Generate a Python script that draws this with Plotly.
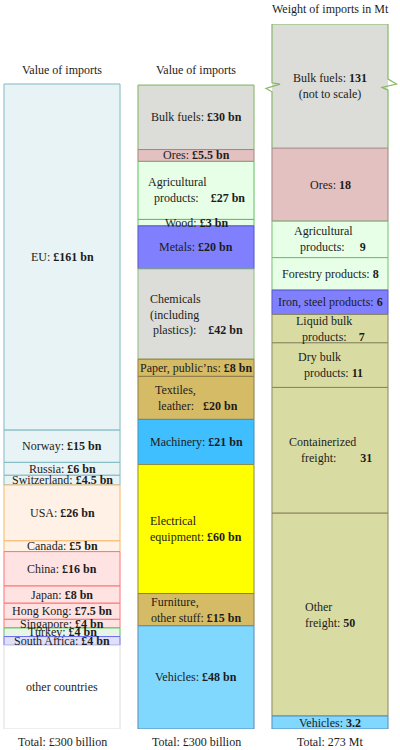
import numpy as np
import plotly.graph_objects as go

# column 1: value of imports by origin (£ bn)
countries = ['EU', 'Norway', 'Russia', 'Switzerland', 'USA', 'Canada', 'China',
             'Japan', 'Hong Kong', 'Singapore', 'Turkey', 'South Africa', 'other countries']
country_bn = [161, 15, 6, 4.5, 26, 5, 16, 8, 7.5, 4, 4, 4, 39]

# column 2: value of imports by goods (£ bn)
goods = ['Bulk fuels:', 'Ores:', 'Agricultural<br>\u00a0\u00a0products:\u00a0\u00a0\u00a0', 'Wood:',
         'Metals:', 'Chemicals<br>(including<br>\u00a0plastics):\u00a0\u00a0\u00a0', "Paper, public\u2019ns:",
         'Textiles,<br>\u00a0leather:\u00a0\u00a0', 'Machinery:', 'Electrical<br>equipment:',
         'Furniture,<br>other stuff:', 'Vehicles:']
goods_bn = [30, 5.5, 27, 3, 20, 42, 8, 20, 21, 60, 15, 48]

# column 3: weight of imports (Mt)
cargo = ['Bulk fuels:', 'Ores:', 'Agricultural<br>\u00a0\u00a0products:\u00a0\u00a0\u00a0\u00a0',
         'Forestry products:', 'Iron, steel products:', 'Liquid bulk<br>\u00a0\u00a0products:\u00a0\u00a0\u00a0',
         'Dry bulk<br>\u00a0\u00a0products:', 'Containerized<br>\u00a0\u00a0\u00a0\u00a0freight:\u00a0\u00a0\u00a0\u00a0\u00a0\u00a0\u00a0',
         'Other<br>freight:', 'Vehicles:']
cargo_mt = [131, 18, 9, 8, 6, 7, 11, 31, 50, 3.2]

titles = ['Value of imports', 'Value of imports', 'Weight of imports in Mt']
totals = ['Total: \u00a3300 billion', 'Total: \u00a3300 billion', 'Total: 273 Mt']

blue_f, blue_l = '#e8f3f5', '#80b9c2'
org_f, org_l = '#fff1e5', '#f7b769'
red_f, red_l = '#ffe3e3', '#ff7373'
country_fill = [blue_f] * 4 + [org_f] * 2 + [red_f] * 4 + ['#e6f5e6', '#e0e0fa', '#ffffff']
country_line = [blue_l] * 4 + [org_l] * 2 + [red_l] * 4 + ['#5cbf5c', '#6b6bf0', '#dddddd']

gray, pink, green, metal, tan, khaki = '#dcdcd8', '#e3c1c1', '#e6ffe6', '#8080ff', '#d6bb66', '#d9dca2'
goods_fill = [gray, pink, green, green, metal, gray, tan, tan, '#3fbfff', '#ffff00', tan, '#80d8ff']
goods_line = ['#7fb35f', '#a88383', '#5fbf5f', '#5fbf5f', '#5555c8', '#8fbb77', '#8c7c45', '#8c7c45',
              '#4a8fb0', '#8c8c40', '#8c7c45', '#5a8ab5']
cargo_fill = [gray, pink, green, green, metal, khaki, khaki, khaki, khaki, '#80d8ff']
cargo_line = [gray, '#a08383', '#70bf70', '#70bf70', '#5555c8', '#8a8660', '#8a8660', '#8a8660',
              '#8a8660', '#5a8ab5']

FONT = 'Liberation Serif'
FS = 12
X0, X1 = -0.4627, 2.5224          # 134 px per column step
BW = 0.866
Y_TOP = 327.9                     # £ bn axis
Y2_TOP = 173.8                    # Mt axis (bulk fuels cut off)


def bases(vals):
    v = np.array(vals, dtype=float)
    return v.sum() - np.cumsum(v)


fig = go.Figure()
annotations = []

cols = [
    (0, countries, country_bn, country_fill, country_line, 'y', '\u00a3{:g} bn'),
    (1, goods, goods_bn, goods_fill, goods_line, 'y', '\u00a3{:g} bn'),
    (2, cargo, cargo_mt, cargo_fill, cargo_line, 'y2', '{:g}'),
]
for xi, names, vals, fills, lines, yax, fmt in cols:
    b = bases(vals)
    widths = [1] * len(vals)
    if yax == 'y2':
        widths[0] = 0
    fig.add_trace(go.Bar(
        x=[xi] * len(vals), y=vals, base=b, width=BW, yaxis=yax,
        marker=dict(color=fills, line=dict(color=lines, width=widths)),
        hoverinfo='skip', showlegend=False))
    top = Y2_TOP if yax == 'y2' else Y_TOP
    for name, v, base in zip(names, vals, b):
        if name == 'other countries':
            txt = name
        elif xi == 0:
            txt = name + ': <b>' + fmt.format(v) + '</b>'
        else:
            txt = name + ' <b>' + fmt.format(v) + '</b>'
        yc = base + v / 2
        if base + v > top:
            yc = (base + top) / 2
            txt += '<br>(not to scale)'
        annotations.append(dict(
            x=xi, y=yc, xref='x', yref=yax, text=txt, showarrow=False,
            align='left' if '<br>' in name else 'center',
            font=dict(family=FONT, size=FS, color='#1c1c1c')))

# column headings and totals
for xi, (t, tot) in enumerate(zip(titles, totals)):
    annotations.append(dict(x=xi, y=1.021 if xi == 2 else 0.9348, xref='x', yref='paper',
                            text=t, showarrow=False, yanchor='middle',
                            font=dict(family=FONT, size=FS, color='#1c1c1c')))
    annotations.append(dict(x=xi, y=-0.018, xref='x', yref='paper', text=tot,
                            showarrow=False, yanchor='middle',
                            font=dict(family=FONT, size=FS, color='#1c1c1c')))

# broken outline of the bulk fuels box (not to scale)
px = 1 / 134.0
py = 1 / 4.057
xl, xr = 2 - BW / 2, 2 + BW / 2
ybase = bases(cargo_mt)[0]


def yp(p):
    return (729 - p) * py


left = [(xl, ybase), (xl, yp(91.7)), (xl - 6 * px, yp(88.3)), (xl + 8 * px, yp(84)),
        (xl, yp(82.7)), (xl, Y2_TOP)]
right = [(xr, Y2_TOP), (xr, yp(79)), (xr + 8.5 * px, yp(84)), (xr - 6 * px, yp(87.3)),
         (xr, yp(90)), (xr, ybase)]
pts = left + right
path = 'M ' + ' L '.join(f'{a:.4f},{c:.3f}' for a, c in pts)
fig.add_shape(type='path', path=path, xref='x', yref='y2',
              line=dict(color='#86b866', width=1.2))

fig.update_layout(
    width=400, height=750,
    margin=dict(l=0, r=0, t=24, b=21),
    paper_bgcolor='white', plot_bgcolor='white',
    barmode='overlay',
    xaxis=dict(range=[X0, X1], visible=False, fixedrange=True),
    yaxis=dict(range=[0, Y_TOP], visible=False, fixedrange=True),
    yaxis2=dict(range=[0, Y2_TOP], visible=False, overlaying='y', fixedrange=True),
    annotations=annotations,
)

fig.write_html('out.html', config={'displayModeBar': False},
               post_script="document.body.style.margin='0';")
